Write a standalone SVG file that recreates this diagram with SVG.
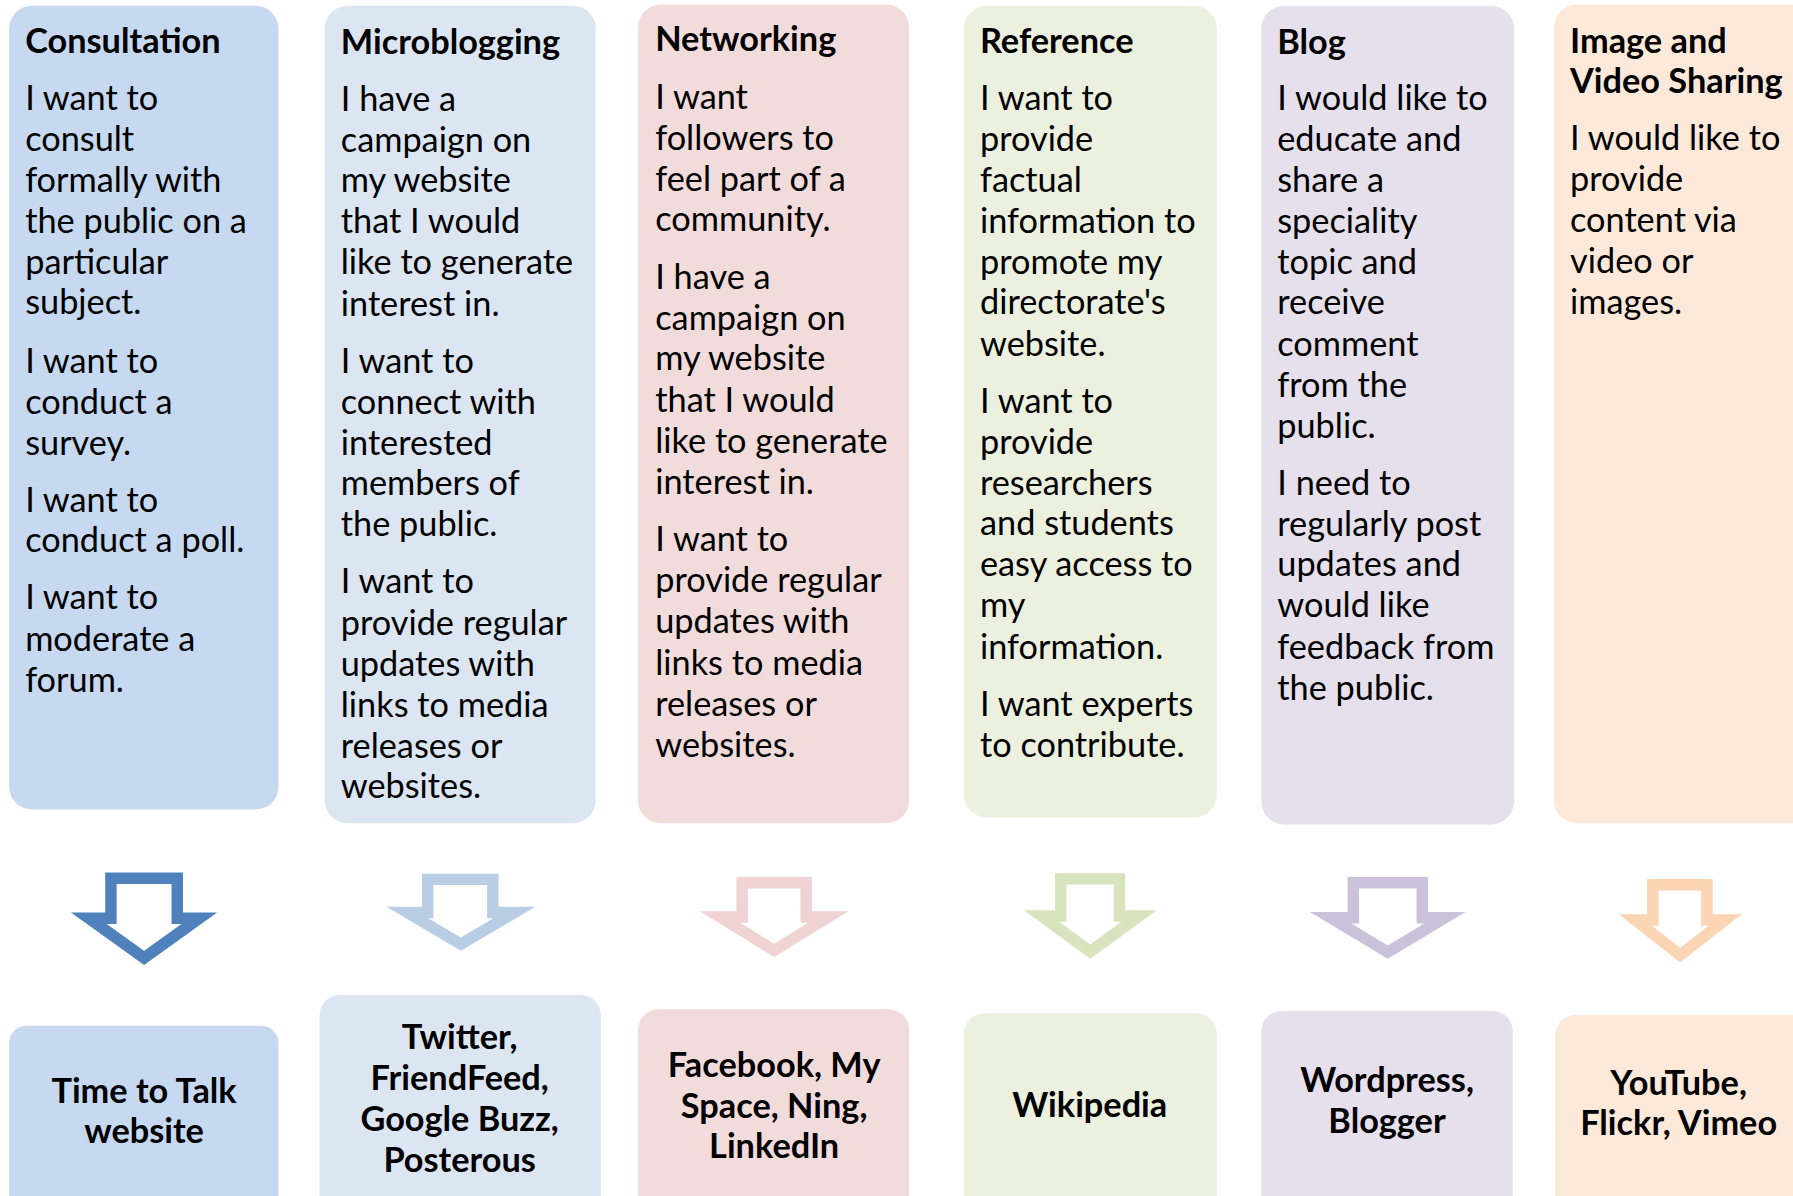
<svg xmlns="http://www.w3.org/2000/svg" width="1793" height="1196" viewBox="0 0 1793 1196">
<style>
text{font-family:Lato,"Open Sans","Liberation Sans",sans-serif;font-size:30px;fill:#000}
.t{font-weight:bold}
.c{font-weight:bold;text-anchor:middle}
.arr{fill:#fff;stroke-width:10;stroke-linejoin:miter;stroke-miterlimit:10}
</style>
<rect width="1793" height="1196" fill="#fff"/>
<g transform="scale(1.14349)">
<g id="consultation">
<rect x="8" y="5" width="235.5" height="703" rx="20" fill="#C6D9F1"/>
<text x="22" class="t" y="46">Consultation</text>
<text><tspan x="22" y="96">I want to</tspan><tspan x="22" y="132">consult</tspan><tspan x="22" y="168">formally with</tspan><tspan x="22" y="204">the public on a</tspan><tspan x="22" y="240">particular</tspan><tspan x="22" y="275">subject.</tspan><tspan x="22" y="326">I want to</tspan><tspan x="22" y="362">conduct a</tspan><tspan x="22" y="398">survey.</tspan><tspan x="22" y="448">I want to</tspan><tspan x="22" y="483">conduct a poll.</tspan><tspan x="22" y="533">I want to</tspan><tspan x="22" y="569">moderate a</tspan><tspan x="22" y="605">forum.</tspan></text>
</g>
<g id="microblogging">
<rect x="284" y="5" width="237" height="715" rx="20" fill="#DCE6F2"/>
<text x="298" class="t" y="47">Microblogging</text>
<text><tspan x="298" y="97">I have a</tspan><tspan x="298" y="133">campaign on</tspan><tspan x="298" y="168">my website</tspan><tspan x="298" y="204">that I would</tspan><tspan x="298" y="240">like to generate</tspan><tspan x="298" y="276">interest in.</tspan><tspan x="298" y="326">I want to</tspan><tspan x="298" y="362">connect with</tspan><tspan x="298" y="398">interested</tspan><tspan x="298" y="433">members of</tspan><tspan x="298" y="469">the public.</tspan><tspan x="298" y="519">I want to</tspan><tspan x="298" y="555">provide regular</tspan><tspan x="298" y="591">updates with</tspan><tspan x="298" y="627">links to media</tspan><tspan x="298" y="663">releases or</tspan><tspan x="298" y="698">websites.</tspan></text>
</g>
<g id="networking">
<rect x="558" y="4" width="237" height="716" rx="20" fill="#F2DCDB"/>
<text x="573" class="t" y="45">Networking</text>
<text><tspan x="573" y="95">I want</tspan><tspan x="573" y="131">followers to</tspan><tspan x="573" y="167">feel part of a</tspan><tspan x="573" y="202">community.</tspan><tspan x="573" y="253">I have a</tspan><tspan x="573" y="289">campaign on</tspan><tspan x="573" y="324">my website</tspan><tspan x="573" y="360">that I would</tspan><tspan x="573" y="396">like to generate</tspan><tspan x="573" y="432">interest in.</tspan><tspan x="573" y="482">I want to</tspan><tspan x="573" y="518">provide regular</tspan><tspan x="573" y="554">updates with</tspan><tspan x="573" y="590">links to media</tspan><tspan x="573" y="626">releases or</tspan><tspan x="573" y="662">websites.</tspan></text>
</g>
<g id="reference">
<rect x="843" y="5" width="221" height="710" rx="20" fill="#EBF1DE"/>
<text x="857" class="t" y="46">Reference</text>
<text><tspan x="857" y="96">I want to</tspan><tspan x="857" y="132">provide</tspan><tspan x="857" y="168">factual</tspan><tspan x="857" y="204">information to</tspan><tspan x="857" y="240">promote my</tspan><tspan x="857" y="275">directorate's</tspan><tspan x="857" y="311">website.</tspan><tspan x="857" y="361">I want to</tspan><tspan x="857" y="397">provide</tspan><tspan x="857" y="433">researchers</tspan><tspan x="857" y="468">and students</tspan><tspan x="857" y="504">easy access to</tspan><tspan x="857" y="540">my</tspan><tspan x="857" y="576">information.</tspan><tspan x="857" y="626">I want experts</tspan><tspan x="857" y="662">to contribute.</tspan></text>
</g>
<g id="blog">
<rect x="1103" y="5" width="221" height="716" rx="20" fill="#E5E0EC"/>
<text x="1117" class="t" y="47">Blog</text>
<text><tspan x="1117" y="96">I would like to</tspan><tspan x="1117" y="132">educate and</tspan><tspan x="1117" y="168">share a</tspan><tspan x="1117" y="204">speciality</tspan><tspan x="1117" y="240">topic and</tspan><tspan x="1117" y="275">receive</tspan><tspan x="1117" y="311">comment</tspan><tspan x="1117" y="347">from the</tspan><tspan x="1117" y="383">public.</tspan><tspan x="1117" y="433">I need to</tspan><tspan x="1117" y="469">regularly post</tspan><tspan x="1117" y="504">updates and</tspan><tspan x="1117" y="540">would like</tspan><tspan x="1117" y="576">feedback from</tspan><tspan x="1117" y="612">the public.</tspan></text>
</g>
<g id="imagevideo">
<rect x="1359" y="4" width="260" height="716" rx="20" fill="#FDE9D9"/>
<text class="t"><tspan x="1373" y="46">Image and</tspan><tspan x="1373" y="81">Video Sharing</tspan></text>
<text><tspan x="1373" y="131">I would like to</tspan><tspan x="1373" y="167">provide</tspan><tspan x="1373" y="203">content via</tspan><tspan x="1373" y="239">video or</tspan><tspan x="1373" y="275">images.</tspan></text>
</g>
<g id="connectors">
<path class="arr" stroke="#4F81BD" d="M97,768 H155 V803 H174.4 L126,837.8 L77.6,803 H97 Z"/>
<path class="arr" stroke="#B9CDE5" d="M374,769 H431 V798 H449.8 L403,825.7 L356.2,798 H374 Z"/>
<path class="arr" stroke="#F0D4D3" d="M649,772 H705 V802 H724.4 L677,831.1 L629.6,802 H649 Z"/>
<path class="arr" stroke="#D7E4BD" d="M927.6,768.6 H979 V801 H996.3 L953.5,832.2 L910.8,801 H927.6 Z"/>
<path class="arr" stroke="#CCC1DA" d="M1183.5,772 H1243.8 V802.6 H1263.6 L1213.6,832.6 L1163.6,802.6 H1183.5 Z"/>
<path class="arr" stroke="#FCD5B5" d="M1445.4,773.7 H1492.7 V804.6 H1508.6 L1469.4,835.3 L1430.1,804.6 H1445.4 Z"/>
</g>
<g id="timetotalk">
<rect x="8" y="897" width="235.5" height="200" rx="15" fill="#C6D9F1"/>
<text class="c"><tspan x="126" y="965">Time to Talk</tspan><tspan x="126" y="1000">website</tspan></text>
</g>
<g id="twitter">
<rect x="279.5" y="870" width="246" height="230" rx="18" fill="#DCE6F2"/>
<text class="c"><tspan x="402" y="917">Twitter,</tspan><tspan x="402" y="953">FriendFeed,</tspan><tspan x="402" y="989">Google Buzz,</tspan><tspan x="402" y="1025">Posterous</tspan></text>
</g>
<g id="facebook">
<rect x="558" y="882.6" width="237" height="220" rx="18" fill="#F2DCDB"/>
<text class="c"><tspan x="677" y="942">Facebook, My</tspan><tspan x="677" y="978">Space, Ning,</tspan><tspan x="677" y="1013">LinkedIn</tspan></text>
</g>
<g id="wikipedia">
<rect x="843" y="886" width="221" height="220" rx="18" fill="#EBF1DE"/>
<text class="c" x="953" y="977">Wikipedia</text>
</g>
<g id="wordpress">
<rect x="1103" y="884" width="220" height="220" rx="18" fill="#E5E0EC"/>
<text class="c"><tspan x="1213" y="955">Wordpress,</tspan><tspan x="1213" y="991">Blogger</tspan></text>
</g>
<g id="youtube">
<rect x="1360" y="887.7" width="260" height="220" rx="18" fill="#FDE9D9"/>
<text class="c"><tspan x="1468" y="958">YouTube,</tspan><tspan x="1468" y="993">Flickr, Vimeo</tspan></text>
</g>
</g>
</svg>
